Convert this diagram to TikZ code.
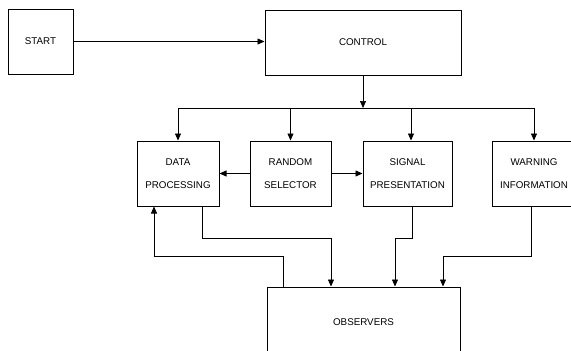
\documentclass[tikz,border=0pt]{standalone}
\usepackage{fontspec}
\setmainfont{Liberation Sans}
\usetikzlibrary{arrows.meta}
\begin{document}
\begin{tikzpicture}[x=1pt,y=-1pt,
  box/.style={draw,line width=1pt,rectangle,inner sep=0pt,align=center,
    font=\fontsize{9.8}{23}\selectfont},
  conn/.style={line width=0.7pt},
  arr/.style={conn,-{Triangle[length=7pt,width=6pt]}}]
\useasboundingbox (0,0) rectangle (571,351);
\clip (0,0) rectangle (571,351);
\node[box,minimum width=65pt,minimum height=65pt] (start) at (40.5,41.5) {START};
\node[box,minimum width=196pt,minimum height=65pt] (control) at (363,42.5) {CONTROL};
\node[box,minimum width=82pt,minimum height=65pt] (data) at (178,173.5) {DATA\\PROCESSING};
\node[box,minimum width=81pt,minimum height=65pt] (random) at (290.5,173.5) {RANDOM\\SELECTOR};
\node[box,minimum width=89pt,minimum height=65pt] (signal) at (407.5,173.5) {SIGNAL\\PRESENTATION};
\node[box,minimum width=84pt,minimum height=65pt] (warning) at (534,173.5) {WARNING\\INFORMATION};
\node[box,minimum width=193pt,minimum height=70pt] (observers) at (363.5,322) {OBSERVERS};
\coordinate (bus) at (0,108);
\coordinate (y238) at (0,238);
\coordinate (y256) at (0,256);
% start -> control
\draw[arr] (start.east) -- (control.west |- start.east);
% control -> bus
\draw[arr] (control.south) -- (control.south |- bus);
\draw[conn] (data.north |- bus) -- (warning.north |- bus);
\draw[arr] (data.north |- bus) -- (data.north);
\draw[arr] (random.north |- bus) -- (random.north);
\coordinate (sIn) at ([xshift=3.5pt]signal.north);
\draw[arr] (sIn |- bus) -- (sIn);
\draw[arr] (warning.north |- bus) -- (warning.north);
% random -> data, signal
\draw[arr] (random.west) -- (data.east);
\draw[arr] (random.east) -- (signal.west);
% outputs to observers
\coordinate (dOut) at ([xshift=24pt]data.south);
\coordinate (oIn1) at ([xshift=-32.5pt]observers.north);
\draw[arr] (dOut) -- (dOut |- y238) -- (oIn1 |- y238) -- (oIn1);
\coordinate (sOut) at ([xshift=4.5pt]signal.south);
\coordinate (oIn2) at ([xshift=31.5pt]observers.north);
\draw[arr] (sOut) -- (sOut |- y238) -- (oIn2 |- y238) -- (oIn2);
\coordinate (wOut) at ([xshift=-3pt]warning.south);
\coordinate (oIn3) at ([xshift=79.5pt]observers.north);
\draw[arr] (wOut) -- (wOut |- y256) -- (oIn3 |- y256) -- (oIn3);
% feedback observers -> data
\coordinate (oOut) at ([xshift=-80.5pt]observers.north);
\coordinate (dIn) at ([xshift=-24pt]data.south);
\draw[arr] (oOut) -- (oOut |- y256) -- (dIn |- y256) -- (dIn);
\end{tikzpicture}
\end{document}
